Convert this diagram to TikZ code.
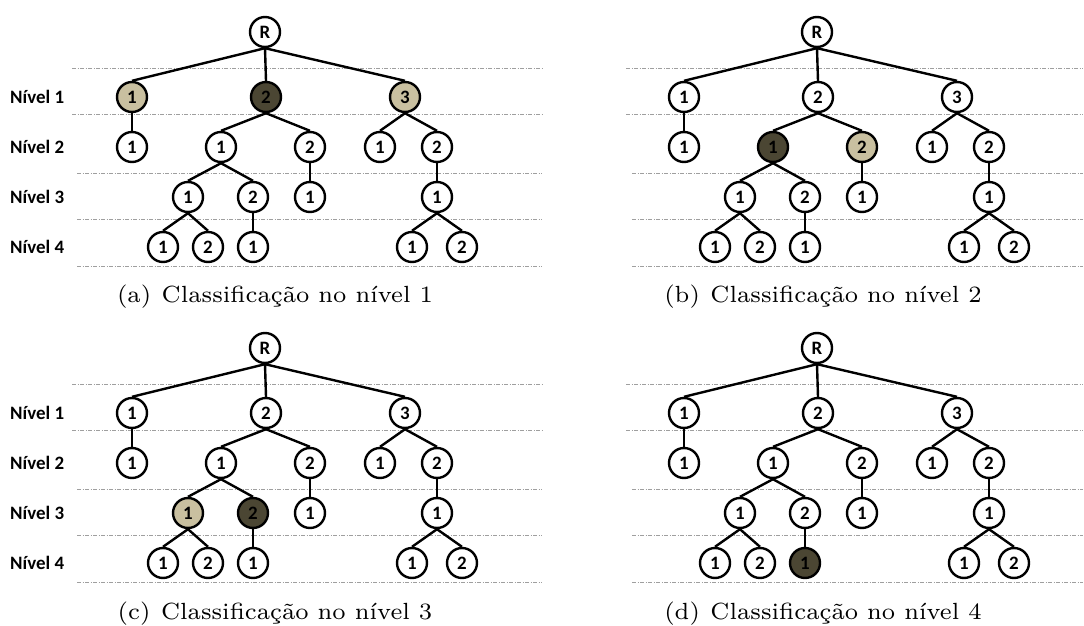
\documentclass[tikz,border=0pt]{standalone}
\usepackage{fontspec}
\newfontfamily\lblfont{Carlito}
\newfontfamily\capfont{lmroman7-regular.otf}
\definecolor{tanlight}{HTML}{C9C0A0}
\definecolor{tandark}{HTML}{4B4633}
\tikzset{
  tn/.style={circle, draw=black, line width=2.4bp, minimum size=30bp, inner sep=0pt,
    fill=white, font=\lblfont\bfseries\fontsize{19}{19}\selectfont},
  light/.style={fill=tanlight},
  dark/.style={fill=tandark},
  edge/.style={line width=2.4bp},
  levelline/.style={draw=gray!75, line width=0.9bp,
    dash pattern=on 4bp off 1.5bp on 1bp off 1.5bp},
  lvl/.style={anchor=west, inner sep=0pt,
    font=\lblfont\bfseries\fontsize{19}{19}\selectfont},
  captext/.style={anchor=base, inner sep=0pt, font=\capfont\fontsize{23.5}{24}\selectfont},
  h1/.style={}, h2/.style={}, h3/.style={},
  h21/.style={}, h22/.style={},
  h211/.style={}, h212/.style={}, h2121/.style={},
}
% level separators: #1 start of upper two lines, #2 start of lower three, #3 end
\newcommand\levellines[3]{%
  \draw[levelline] (#1,68) -- (#3,68);
  \draw[levelline] (#1,114) -- (#3,114);
  \draw[levelline] (#2,173) -- (#3,173);
  \draw[levelline] (#2,219) -- (#3,219);
  \draw[levelline] (#2,266) -- (#3,266);
}
% the class hierarchy, node names prefixed with #1
\newcommand\classtree[1]{%
  \node[tn] (#1-R) at (265,32) {R};
  \node[tn,h1] (#1-1) at (132,97) {1};
  \node[tn,h2] (#1-2) at (266,97) {2};
  \node[tn,h3] (#1-3) at (405,97) {3};
  \node[tn] (#1-11) at (132,147) {1};
  \node[tn,h21] (#1-21) at (221,147) {1};
  \node[tn,h22] (#1-22) at (310,147) {2};
  \node[tn] (#1-31) at (380,147) {1};
  \node[tn] (#1-32) at (437,147) {2};
  \node[tn,h211] (#1-211) at (188,197) {1};
  \node[tn,h212] (#1-212) at (253,197) {2};
  \node[tn] (#1-221) at (310,197) {1};
  \node[tn] (#1-321) at (437,197) {1};
  \node[tn] (#1-2111) at (163,247) {1};
  \node[tn] (#1-2112) at (208,247) {2};
  \node[tn,h2121] (#1-2121) at (253,247) {1};
  \node[tn] (#1-3211) at (412,247) {1};
  \node[tn] (#1-3212) at (462,247) {2};
  \foreach \p/\c in {R/1,R/2,R/3,1/11,2/21,2/22,3/31,3/32,21/211,21/212,22/221,
                     32/321,211/2111,211/2112,212/2121,321/3211,321/3212}
    \draw[edge] (#1-\p.south) -- (#1-\c.north);
}
\newcommand\levellabels[1]{%
  \node[lvl] (#1-n1) at (10,97) {Nível 1};
  \node[lvl] (#1-n2) at (10,147) {Nível 2};
  \node[lvl] (#1-n3) at (10,197) {Nível 3};
  \node[lvl] (#1-n4) at (10,247) {Nível 4};
}
\begin{document}
\begin{tikzpicture}[x=1bp, y=-1bp]
\useasboundingbox (0,0) rectangle (1084,626);
% (a)
\begin{scope}[h1/.style=light, h2/.style=dark, h3/.style=light]
  \levellines{72}{77}{542}
  \levellabels{a}
  \classtree{a}
  \node[captext] (a-cap) at (275,303) {(a)\hspace{0.45em}Classificação no nível 1};
\end{scope}
% (b)
\begin{scope}[shift={(552,0)}, h21/.style=dark, h22/.style=light]
  \levellines{74}{80}{531}
  \classtree{b}
  \node[captext] (b-cap) at (271,303) {(b)\hspace{0.45em}Classificação no nível 2};
\end{scope}
% (c)
\begin{scope}[shift={(0,316)}, h211/.style=light, h212/.style=dark]
  \levellines{72}{77}{542}
  \levellabels{c}
  \classtree{c}
  \node[captext] (c-cap) at (275,303) {(c)\hspace{0.45em}Classificação no nível 3};
\end{scope}
% (d)
\begin{scope}[shift={(552,316)}, h2121/.style=dark]
  \levellines{74}{80}{531}
  \classtree{d}
  \node[captext] (d-cap) at (271,303) {(d)\hspace{0.45em}Classificação no nível 4};
\end{scope}
\end{tikzpicture}
\end{document}
